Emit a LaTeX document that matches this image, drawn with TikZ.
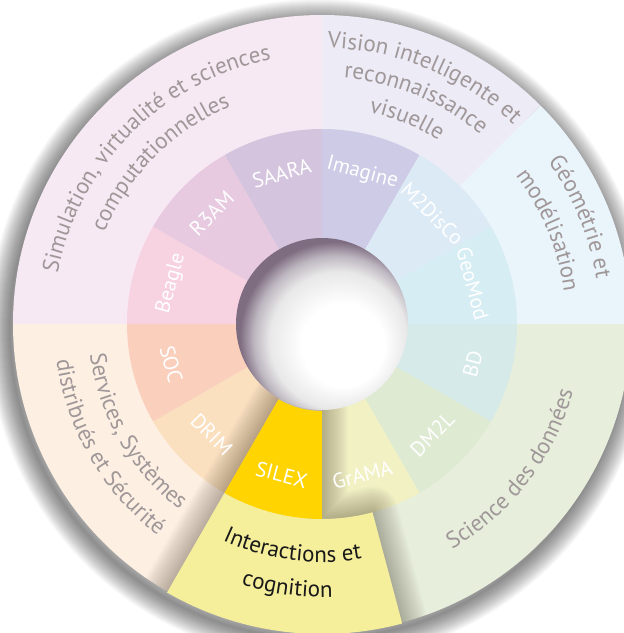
\documentclass[tikz,border=0pt]{standalone}
\usepackage{fontspec}
\setmainfont{PT Sans}
\usetikzlibrary{decorations.text}
% outer ring
\definecolor{cSim}{HTML}{F7E9F3}
\definecolor{cVis}{HTML}{ECEBF6}
\definecolor{cGeo}{HTML}{E9F4FB}
\definecolor{cSci}{HTML}{E7EFDC}
\definecolor{cInt}{HTML}{F5EE9B}
\definecolor{cSer}{HTML}{FDF0E3}
% inner ring
\definecolor{cSAARA}{HTML}{D4C4DE}
\definecolor{cImagine}{HTML}{CDCBE6}
\definecolor{cMDisCo}{HTML}{DCEAF6}
\definecolor{cGeoMod}{HTML}{D6EDF3}
\definecolor{cBD}{HTML}{D5EAE9}
\definecolor{cDML}{HTML}{DEEAD2}
\definecolor{cGrAMA}{HTML}{F1F1C4}
\definecolor{cSILEX}{HTML}{FFD400}
\definecolor{cDRIM}{HTML}{FBE0C0}
\definecolor{cSOC}{HTML}{FACFBC}
\definecolor{cBeagle}{HTML}{F7D2E0}
\definecolor{cRAM}{HTML}{E7C9E0}
\definecolor{txtgray}{HTML}{A09799}
\definecolor{holerim}{HTML}{7E6C80}
\definecolor{holemid}{HTML}{BDB6C0}
\pgfdeclareradialshading{holeshade}{\pgfpoint{8bp}{-8bp}}{color(0bp)=(white); color(12bp)=(white); color(20bp)=(black!9); color(24bp)=(holemid); color(27.5bp)=(holerim); color(50bp)=(holerim)}
\newcommand{\outerfnt}{\fontsize{23}{27}\selectfont}
\newcommand{\innerfnt}{\fontsize{21}{25}\selectfont}
\tikzset{
  inlabel/.style={text=white, font=\innerfnt, inner sep=0pt},
  curvetext/.style={decorate, decoration={text along path, text align=center, text color=txtgray}},
}
\newcommand{\sector}[4]{% color, a1, a2, radius
  \fill[#1] (0,0) -- (#2:#4) arc[start angle=#2, end angle=#3, radius=#4 pt] -- cycle;}
\begin{document}
\begin{tikzpicture}[x=1pt,y=1pt]
\useasboundingbox (-322,-309) rectangle (302,324);
\fill[white] (-322,-309) rectangle (302,324);
% outer drop shadow
\foreach \i in {1,...,22}{
  \draw[black, line width=\i*2pt, opacity=0.022] (-3,-6) circle[radius=309pt];
}
% outer ring sectors
\sector{cSim}{90}{180}{309}
\sector{cVis}{45}{90}{309}
\sector{cGeo}{0}{45}{309}
\sector{cSci}{-75}{0}{309}
\sector{cSer}{180}{240}{309}
% inner ring sectors
\sector{cSAARA}{90}{120}{195}
\sector{cImagine}{60}{90}{195}
\sector{cMDisCo}{30}{60}{195}
\sector{cGeoMod}{0}{30}{195}
\sector{cBD}{-30}{0}{195}
\sector{cDML}{-60}{-30}{195}
\sector{cGrAMA}{-90}{-60}{195}
\sector{cDRIM}{-150}{-120}{195}
\sector{cSOC}{-180}{-150}{195}
\sector{cBeagle}{150}{180}{195}
\sector{cRAM}{120}{150}{195}
% soft shadow of highlighted sectors
\begin{scope}
\clip (0,0) circle[radius=309pt];
\foreach \i in {1,...,20}{
  \draw[black!80!brown, line width=\i*2.6pt, opacity=0.015, line join=round]
    (-120:87) -- (-120:310) arc[start angle=-120, end angle=-75, radius=310pt]
    -- (-75:195) arc[start angle=-75, end angle=-90, radius=195pt]
    -- (-90:87) arc[start angle=-90, end angle=-120, radius=87pt] -- cycle;
}
\end{scope}
% highlighted sectors
\fill[cInt] (-120:195) -- (-120:310) arc[start angle=-120, end angle=-75, radius=310pt]
  -- (-75:195) arc[start angle=-75, end angle=-120, radius=195pt] -- cycle;
\fill[cSILEX] (-120:87) -- (-120:195) arc[start angle=-120, end angle=-90, radius=195pt]
  -- (-90:87) arc[start angle=-90, end angle=-120, radius=87pt] -- cycle;
% hole
\shade[shading=holeshade] (0,0) circle[radius=86pt];
% inner labels
\foreach \lab/\ang in {SAARA/105,Imagine/75,M2DisCo/45,GeoMod/15,BD/-15,DM2L/-45,GrAMA/-75,SILEX/-105,DRIM/-135,SOC/-165,Beagle/165,R3AM/135}{
  \pgfmathsetmacro\rot{\ang>0 ? \ang-90 : \ang+90}
  \node[inlabel, rotate=\rot] (n\lab) at (\ang:156) {\lab};
}
% outer curved labels (top half: clockwise)
\path[curvetext, decoration={text={|\outerfnt|Simulation, virtualité et sciences}}]
  (200:269) arc[start angle=200, end angle=70, radius=269pt];
\path[curvetext, decoration={text={|\outerfnt|computationnelles}}]
  (200:236) arc[start angle=200, end angle=70, radius=236pt];
\path[curvetext, decoration={text={|\outerfnt|Vision intelligente et}}]
  (130:276) arc[start angle=130, end angle=5, radius=276pt];
\path[curvetext, decoration={text={|\outerfnt|reconnaissance}}]
  (130:247) arc[start angle=130, end angle=5, radius=247pt];
\path[curvetext, decoration={text={|\outerfnt|visuelle}}]
  (130:217) arc[start angle=130, end angle=5, radius=217pt];
\path[curvetext, decoration={text={|\outerfnt|Géométrie et}}]
  (85:278) arc[start angle=85, end angle=-40, radius=278pt];
\path[curvetext, decoration={text={|\outerfnt|modélisation}}]
  (85:244) arc[start angle=85, end angle=-40, radius=244pt];
% bottom half: counter-clockwise
\path[curvetext, decoration={text={|\outerfnt|Science des données}}]
  (250:260) arc[start angle=250, end angle=395, radius=260pt];
\path[curvetext, decoration={text={|\outerfnt|Services, Systèmes}}]
  (150:234) arc[start angle=150, end angle=270, radius=234pt];
\path[curvetext, decoration={text={|\outerfnt|distribués et Sécurité}}]
  (150:268) arc[start angle=150, end angle=270, radius=268pt];
\path[curvetext, decoration={text color=black!90, text={|\outerfnt|Interactions et}}]
  (200:238) arc[start angle=200, end angle=325, radius=238pt];
\path[curvetext, decoration={text color=black!90, text={|\outerfnt|cognition}}]
  (200:273) arc[start angle=200, end angle=325, radius=273pt];
\end{tikzpicture}
\end{document}
